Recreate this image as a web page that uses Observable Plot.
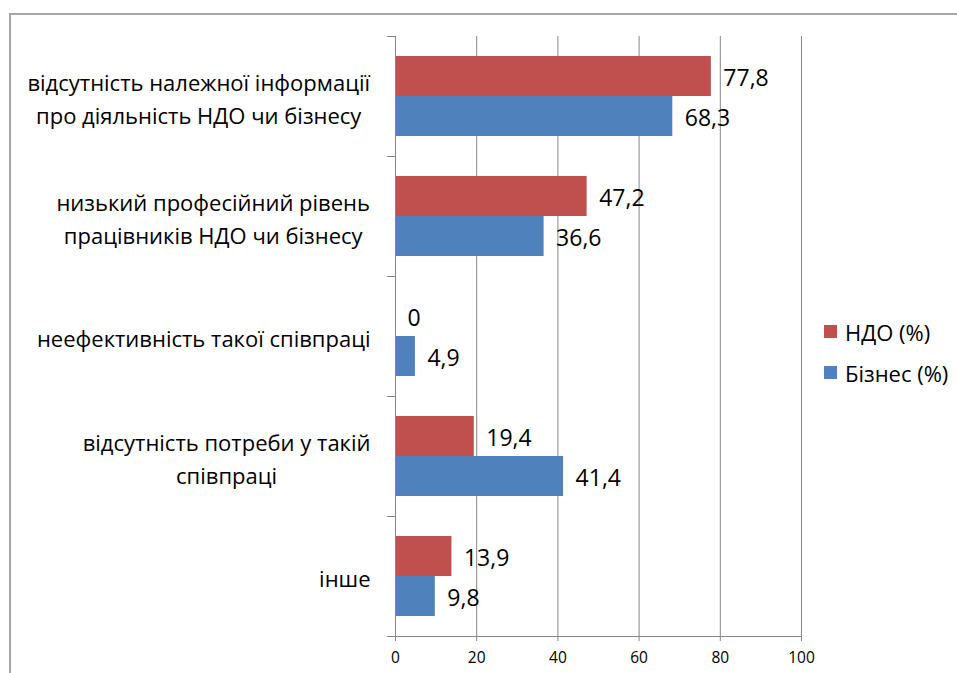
<!DOCTYPE html>
<html><head><meta charset="utf-8">
<script src="https://cdn.jsdelivr.net/npm/d3@7"></script>
<script src="https://cdn.jsdelivr.net/npm/@observablehq/plot@0.6"></script>
<style>
body{margin:0;background:#fff;font-family:"Open Sans",sans-serif;}
#wrap{position:relative;width:957px;height:673px;overflow:hidden;background:#fff;}
#frame{position:absolute;left:9px;top:13px;width:990px;height:720px;border:2px solid #a6a6a6;box-sizing:border-box;}
#chart{position:absolute;left:0;top:0;}
#legend{position:absolute;left:824px;top:311px;font-size:22px;color:#000;}
.item{display:flex;align-items:center;height:41px;white-space:nowrap;}
.sw{width:13px;height:13px;margin-right:8px;}
</style></head><body>
<div id="wrap"><div id="frame"></div><div id="chart"></div><div id="legend"></div></div>
<script>
const categories = ["c1","c2","c3","c4","c5"];
const categoryLabels = [
  "відсутність належної інформації\nпро діяльність НДО чи бізнесу",
  "низький професійний рівень\nпрацівників НДО чи бізнесу",
  "неефективність такої співпраці",
  "відсутність потреби у такій\nспівпраці",
  "інше"
];
const series = ["НДО (%)", "Бізнес (%)"];
const ndoValues = [77.8, 47.2, 0, 19.4, 13.9];
const bizValues = [68.3, 36.6, 4.9, 41.4, 9.8];
const xTicks = [0, 20, 40, 60, 80, 100];
const colors = ["#C0504D", "#4F81BD"];

const rows = [];
categories.forEach((c, i) => {
  rows.push({category: c, series: series[0], value: ndoValues[i]});
  rows.push({category: c, series: series[1], value: bizValues[i]});
});
const labelRows = categories.map((c, i) => ({category: c, label: categoryLabels[i]}));
const axisColor = "#868686";

const chart = Plot.plot({
  width: 957, height: 673,
  marginTop: 35, marginBottom: 37, marginLeft: 395, marginRight: 156,
  style: {fontFamily: '"Open Sans", sans-serif', background: "transparent", color: "#000", overflow: "visible"},
  x: {domain: [0, 100], axis: null},
  fy: {domain: categories, padding: 0, axis: null},
  y: {domain: series, paddingInner: 0, paddingOuter: 0.5, axis: null},
  color: {domain: series, range: colors},
  marks: [
    Plot.gridX(xTicks, {stroke: axisColor, strokeOpacity: 1}),
    Plot.frame({anchor: "top", stroke: axisColor, insetLeft: -8, insetRight: 406}),
    Plot.frame({anchor: "bottom", facetAnchor: "bottom", stroke: axisColor, insetLeft: -8}),
    Plot.barX(rows, {fy: "category", y: "series", x: "value", fill: "series"}),
    Plot.ruleX([0], {stroke: axisColor}),
    Plot.axisX(xTicks, {tickSize: 5, tickPadding: 10, stroke: axisColor, fill: "#000", fontSize: 15.5, label: null, tickFormat: d => String(d)}),
    Plot.text(rows, {fy: "category", y: "series", x: "value", text: d => String(d.value).replace(".", ","), textAnchor: "start", dx: 12, dy: 2, fontSize: 23, fill: "#000"}),
    Plot.text(labelRows, {fy: "category", text: "label", frameAnchor: "left", textAnchor: "end", dx: -25, lineHeight: 1.5, fontSize: 22, fill: "#000"})
  ]
});
document.getElementById("chart").appendChild(chart);

// centre each line of a category label within its right-aligned block
const labelKeys = new Set(categoryLabels.map(l => l.replace(/\n/g, "")));
chart.querySelectorAll("text").forEach(t => {
  if (!labelKeys.has(t.textContent)) return;
  const w = t.getBBox().width;
  t.setAttribute("text-anchor", "middle");
  t.querySelectorAll("tspan").forEach(s => s.setAttribute("text-anchor", "middle"));
  const tr = t.getAttribute("transform") || "";
  t.setAttribute("transform", tr + ` translate(${-w / 2},0)`);
});

const legend = document.getElementById("legend");
series.forEach((s, i) => {
  const item = document.createElement("div");
  item.className = "item";
  const sw = document.createElement("span");
  sw.className = "sw";
  sw.style.background = colors[i];
  const tx = document.createElement("span");
  tx.textContent = s;
  item.appendChild(sw); item.appendChild(tx);
  legend.appendChild(item);
});
</script>
</body></html>
